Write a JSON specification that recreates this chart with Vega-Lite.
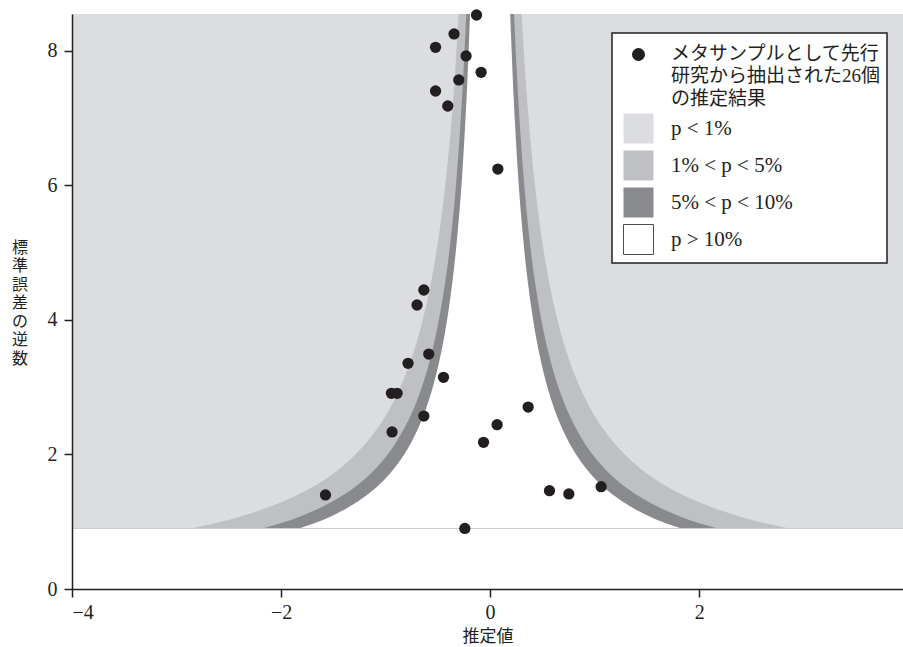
{
  "$schema": "https://vega.github.io/schema/vega-lite/v6.json",
  "width": 831,
  "height": 575,
  "autosize": {"type": "none"},
  "padding": {"left": 72, "top": 14, "right": 0, "bottom": 58},
  "background": "white",
  "title": {
    "text": ["標", "準", "誤", "差", "の", "逆", "数"],
    "orient": "left", "angle": 0, "anchor": "middle", "align": "right", "baseline": "middle",
    "offset": 3, "dy": -54, "font": "'Noto Sans CJK JP'", "fontSize": 16, "fontWeight": "normal",
    "lineHeight": 18.5, "color": "#231f20"
  },
  "config": {
    "view": {"stroke": null},
    "axis": {
      "domainColor": "#231f20", "domainWidth": 1.5, "tickColor": "#231f20", "tickWidth": 1.5, "tickSize": 8,
      "labelFont": "'Liberation Serif'", "labelFontSize": 20, "labelColor": "#231f20", "grid": false,
      "titleFont": "'Noto Sans CJK JP'", "titleFontSize": 17, "titleColor": "#231f20", "titleFontWeight": "normal"
    }
  },
  "datasets": {
    "studies": [
      {"est": -0.130, "prec": 8.535}, {"est": -0.345, "prec": 8.253}, {"est": -0.522, "prec": 8.055},
      {"est": -0.230, "prec": 7.926}, {"est": -0.086, "prec": 7.683}, {"est": -0.300, "prec": 7.569},
      {"est": -0.522, "prec": 7.405}, {"est": -0.405, "prec": 7.182}, {"est": 0.074, "prec": 6.245},
      {"est": -0.634, "prec": 4.446}, {"est": -0.699, "prec": 4.223}, {"est": -0.587, "prec": 3.494},
      {"est": -0.785, "prec": 3.356}, {"est": -0.446, "prec": 3.148}, {"est": -0.944, "prec": 2.910},
      {"est": -0.890, "prec": 2.910}, {"est": -0.634, "prec": 2.572}, {"est": -0.938, "prec": 2.335},
      {"est": 0.364, "prec": 2.706}, {"est": 0.067, "prec": 2.443}, {"est": -0.063, "prec": 2.181},
      {"est": -1.575, "prec": 1.398}, {"est": 0.568, "prec": 1.462}, {"est": 0.753, "prec": 1.413},
      {"est": 1.062, "prec": 1.521}, {"est": -0.242, "prec": 0.900}
    ],
    "contours": [
      {"prec": 0.90, "l1": -2.862, "h1": 2.862, "l5": -2.178, "h5": 2.178, "l10": -1.828, "h10": 1.828},
      {"prec": 0.95, "l1": -2.712, "h1": 2.712, "l5": -2.063, "h5": 2.063, "l10": -1.732, "h10": 1.732},
      {"prec": 1.00, "l1": -2.576, "h1": 2.576, "l5": -1.960, "h5": 1.960, "l10": -1.645, "h10": 1.645},
      {"prec": 1.05, "l1": -2.453, "h1": 2.453, "l5": -1.867, "h5": 1.867, "l10": -1.567, "h10": 1.567},
      {"prec": 1.10, "l1": -2.342, "h1": 2.342, "l5": -1.782, "h5": 1.782, "l10": -1.495, "h10": 1.495},
      {"prec": 1.20, "l1": -2.147, "h1": 2.147, "l5": -1.633, "h5": 1.633, "l10": -1.371, "h10": 1.371},
      {"prec": 1.30, "l1": -1.982, "h1": 1.982, "l5": -1.508, "h5": 1.508, "l10": -1.265, "h10": 1.265},
      {"prec": 1.40, "l1": -1.840, "h1": 1.840, "l5": -1.400, "h5": 1.400, "l10": -1.175, "h10": 1.175},
      {"prec": 1.55, "l1": -1.662, "h1": 1.662, "l5": -1.265, "h5": 1.265, "l10": -1.061, "h10": 1.061},
      {"prec": 1.70, "l1": -1.515, "h1": 1.515, "l5": -1.153, "h5": 1.153, "l10": -0.968, "h10": 0.968},
      {"prec": 1.90, "l1": -1.356, "h1": 1.356, "l5": -1.032, "h5": 1.032, "l10": -0.866, "h10": 0.866},
      {"prec": 2.10, "l1": -1.227, "h1": 1.227, "l5": -0.933, "h5": 0.933, "l10": -0.783, "h10": 0.783},
      {"prec": 2.40, "l1": -1.073, "h1": 1.073, "l5": -0.817, "h5": 0.817, "l10": -0.685, "h10": 0.685},
      {"prec": 2.70, "l1": -0.954, "h1": 0.954, "l5": -0.726, "h5": 0.726, "l10": -0.609, "h10": 0.609},
      {"prec": 3.00, "l1": -0.859, "h1": 0.859, "l5": -0.653, "h5": 0.653, "l10": -0.548, "h10": 0.548},
      {"prec": 3.40, "l1": -0.758, "h1": 0.758, "l5": -0.576, "h5": 0.576, "l10": -0.484, "h10": 0.484},
      {"prec": 3.80, "l1": -0.678, "h1": 0.678, "l5": -0.516, "h5": 0.516, "l10": -0.433, "h10": 0.433},
      {"prec": 4.30, "l1": -0.599, "h1": 0.599, "l5": -0.456, "h5": 0.456, "l10": -0.383, "h10": 0.383},
      {"prec": 4.80, "l1": -0.537, "h1": 0.537, "l5": -0.408, "h5": 0.408, "l10": -0.343, "h10": 0.343},
      {"prec": 5.40, "l1": -0.477, "h1": 0.477, "l5": -0.363, "h5": 0.363, "l10": -0.305, "h10": 0.305},
      {"prec": 6.00, "l1": -0.429, "h1": 0.429, "l5": -0.327, "h5": 0.327, "l10": -0.274, "h10": 0.274},
      {"prec": 6.70, "l1": -0.384, "h1": 0.384, "l5": -0.293, "h5": 0.293, "l10": -0.246, "h10": 0.246},
      {"prec": 7.40, "l1": -0.348, "h1": 0.348, "l5": -0.265, "h5": 0.265, "l10": -0.222, "h10": 0.222},
      {"prec": 8.00, "l1": -0.322, "h1": 0.322, "l5": -0.245, "h5": 0.245, "l10": -0.206, "h10": 0.206},
      {"prec": 8.55, "l1": -0.301, "h1": 0.301, "l5": -0.229, "h5": 0.229, "l10": -0.192, "h10": 0.192}
    ]
  },
  "layer": [
    {
      "data": {"name": "studies"},
      "mark": {"type": "rect"},
      "encoding": {
        "y": {"aggregate": "min", "field": "prec", "type": "quantitative", "title": null},
        "y2": {"value": 0},
        "x": {"value": 0},
        "x2": {"value": "width"},
        "color": {"datum": "p < 1%", "type": "nominal"}
      }
    },
    {
      "data": {"name": "contours"},
      "mark": {"type": "area", "orient": "horizontal", "interpolate": "monotone", "opacity": 1},
      "encoding": {
        "y": {"field": "prec", "type": "quantitative", "title": null},
        "x": {"field": "l1", "type": "quantitative", "title": "推定値"},
        "x2": {"field": "h1"},
        "color": {"datum": "1% < p < 5%", "type": "nominal"}
      }
    },
    {
      "data": {"name": "contours"},
      "mark": {"type": "area", "orient": "horizontal", "interpolate": "monotone", "opacity": 1},
      "encoding": {
        "y": {"field": "prec", "type": "quantitative", "title": null},
        "x": {"field": "l5", "type": "quantitative", "title": "推定値"},
        "x2": {"field": "h5"},
        "color": {"datum": "5% < p < 10%", "type": "nominal"}
      }
    },
    {
      "data": {"name": "contours"},
      "mark": {"type": "area", "orient": "horizontal", "interpolate": "monotone", "opacity": 1},
      "encoding": {
        "y": {"field": "prec", "type": "quantitative", "title": null},
        "x": {"field": "l10", "type": "quantitative", "title": "推定値"},
        "x2": {"field": "h10"},
        "color": {"datum": "p > 10%", "type": "nominal"}
      }
    },
    {
      "data": {"name": "studies"},
      "mark": {"type": "rule", "color": "#cfcfcf", "strokeWidth": 1},
      "encoding": {
        "y": {"aggregate": "min", "field": "prec", "type": "quantitative", "title": null}
      }
    },
    {
      "data": {"name": "studies"},
      "mark": {"type": "circle", "size": 127, "opacity": 1},
      "encoding": {
        "x": {"field": "est", "type": "quantitative", "title": "推定値",
              "scale": {"domain": [-4, 3.95], "nice": false, "zero": false},
              "axis": {"values": [-4, -2, 0, 2], "format": "d", "labelPadding": 5, "titlePadding": 6, "zindex": 1}},
        "y": {"field": "prec", "type": "quantitative", "title": null,
              "scale": {"domain": [0, 8.55], "nice": false, "zero": false},
              "axis": {"values": [0, 2, 4, 6, 8], "format": "d", "labelPadding": 7, "zindex": 1}},
        "color": {"datum": "est", "type": "nominal",
                  "scale": {"domain": ["est", "p < 1%", "1% < p < 5%", "5% < p < 10%", "p > 10%"],
                            "range": ["#231f20", "#dcdde0", "#bfc0c4", "#898a8e", "#ffffff"]},
                  "legend": {
                    "orient": "none", "legendX": 540, "legendY": 19, "title": null,
                    "fillColor": "white", "strokeColor": "#231f20", "padding": 6,
                    "symbolSize": 900, "symbolType": "square", "symbolOpacity": 1, "symbolOffset": 5,
                    "labelOffset": 17, "labelFont": "'Liberation Serif', 'Noto Sans CJK JP'",
                    "labelFontSize": 19, "labelColor": "#231f20", "labelLimit": 400, "rowPadding": 2,
                    "labelExpr": "datum.value === 'est' ? ['メタサンプルとして先行', '研究から抽出された26個', 'の推定結果'] : datum.label",
                    "encode": {
                      "legend": {"update": {"strokeWidth": {"value": 1.5}}},
                      "symbols": {"update": {
                        "shape": {"signal": "datum.value === 'est' ? 'circle' : 'square'"},
                        "size": {"signal": "datum.value === 'est' ? 170 : 900"},
                        "stroke": {"signal": "datum.value === 'p > 10%' ? '#4d4d4d' : 'transparent'"},
                        "strokeWidth": {"value": 1},
                        "opacity": {"value": 1}
                      }},
                      "labels": {"update": {
                        "baseline": {"signal": "datum.value === 'est' ? 'top' : 'middle'"},
                        "dy": {"signal": "datum.value === 'est' ? -10 : 0"},
                        "fontSize": {"signal": "datum.value === 'est' ? 19 : 21"},
                        "lineHeight": {"value": 22.5}
                      }}
                    }
                  }}
      }
    }
  ]
}
